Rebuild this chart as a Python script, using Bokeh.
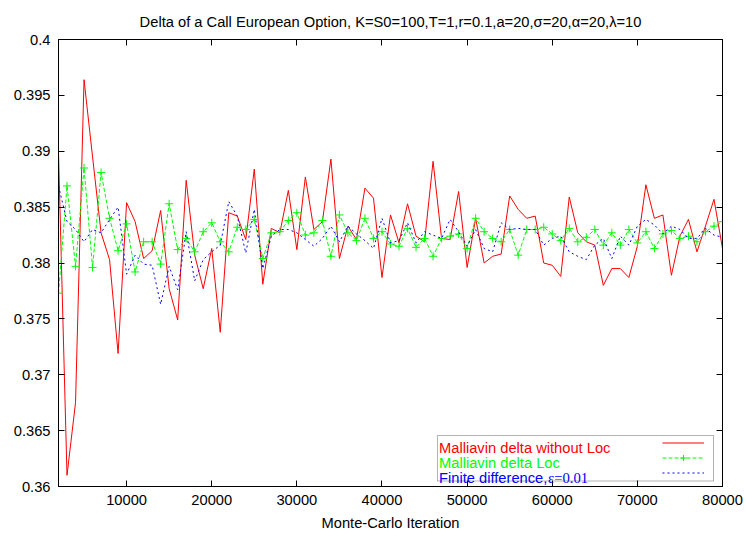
from bokeh.plotting import figure
from bokeh.models import (Range1d, LinearAxis, FixedTicker, Label, BoxAnnotation,
                          Legend, LegendItem)
from bokeh.embed import file_html
from bokeh.resources import INLINE

# ---------------- data ----------------
iterations = [2000, 3000, 4000, 5000, 6000, 7000, 8000, 9000, 10000, 11000,
              12000, 13000, 14000, 15000, 16000, 17000, 18000, 19000, 20000, 21000,
              22000, 23000, 24000, 25000, 26000, 27000, 28000, 29000, 30000, 31000,
              32000, 33000, 34000, 35000, 36000, 37000, 38000, 39000, 40000, 41000,
              42000, 43000, 44000, 45000, 46000, 47000, 48000, 49000, 50000, 51000,
              52000, 53000, 54000, 55000, 56000, 57000, 58000, 59000, 60000, 61000,
              62000, 63000, 64000, 65000, 66000, 67000, 68000, 69000, 70000, 71000,
              72000, 73000, 74000, 75000, 76000, 77000, 78000, 79000, 80000]

malliavin_without_loc = [
    0.3899, 0.3610, 0.3675, 0.3964, 0.3895, 0.3827, 0.3803, 0.3719, 0.3854, 0.3837,
    0.3804, 0.3811, 0.3847, 0.3777, 0.3749, 0.3874, 0.3807, 0.3777, 0.3813, 0.3738,
    0.3845, 0.3842, 0.3821, 0.3884, 0.3781, 0.3831, 0.3827, 0.3865, 0.3812, 0.3877,
    0.3830, 0.3837, 0.3893, 0.3804, 0.3833, 0.3821, 0.3867, 0.3858, 0.3787, 0.3843,
    0.3818, 0.3853, 0.3824, 0.3819, 0.3891, 0.3822, 0.3821, 0.3864, 0.3796, 0.3840,
    0.3800, 0.3806, 0.3808, 0.3860, 0.3848, 0.3840, 0.3842, 0.3800, 0.3798, 0.3788,
    0.3859, 0.3827, 0.3819, 0.3816, 0.3780, 0.3795, 0.3795, 0.3787, 0.3815, 0.3870,
    0.3840, 0.3843, 0.3789, 0.3824, 0.3839, 0.3810, 0.3833, 0.3857, 0.3813]

malliavin_loc = [
    0.3773, 0.3869, 0.3797, 0.3885, 0.3796, 0.3881, 0.3840, 0.3811, 0.3835, 0.3792,
    0.3819, 0.3819, 0.3799, 0.3853, 0.3812, 0.3822, 0.3810, 0.3828, 0.3836, 0.3819,
    0.3810, 0.3832, 0.3830, 0.3839, 0.3804, 0.3827, 0.3828, 0.3838, 0.3845, 0.3825,
    0.3827, 0.3838, 0.3806, 0.3843, 0.3827, 0.3820, 0.3840, 0.3822, 0.3828, 0.3817,
    0.3815, 0.3831, 0.3814, 0.3822, 0.3806, 0.3822, 0.3824, 0.3826, 0.3813, 0.3840,
    0.3828, 0.3822, 0.3819, 0.3830, 0.3807, 0.3830, 0.3830, 0.3832, 0.3826, 0.3820,
    0.3831, 0.3819, 0.3823, 0.3830, 0.3816, 0.3827, 0.3816, 0.3830, 0.3818, 0.3828,
    0.3813, 0.3826, 0.3829, 0.3822, 0.3824, 0.3819, 0.3828, 0.3833, 0.3837]

finite_difference = [
    0.3869, 0.3837, 0.3830, 0.3819, 0.3830, 0.3827, 0.3839, 0.3850, 0.3790, 0.3807,
    0.3799, 0.3798, 0.3763, 0.3797, 0.3776, 0.3828, 0.3784, 0.3803, 0.3810, 0.3816,
    0.3855, 0.3842, 0.3809, 0.3848, 0.3795, 0.3824, 0.3830, 0.3830, 0.3827, 0.3821,
    0.3815, 0.3822, 0.3833, 0.3819, 0.3833, 0.3826, 0.3820, 0.3813, 0.3840, 0.3818,
    0.3820, 0.3836, 0.3818, 0.3828, 0.3825, 0.3822, 0.3839, 0.3828, 0.3815, 0.3830,
    0.3813, 0.3810, 0.3836, 0.3830, 0.3831, 0.3830, 0.3830, 0.3816, 0.3822, 0.3824,
    0.3810, 0.3806, 0.3803, 0.3816, 0.3822, 0.3804, 0.3824, 0.3816, 0.3833, 0.3839,
    0.3834, 0.3826, 0.3833, 0.3830, 0.3822, 0.3822, 0.3831, 0.3825, 0.3823]

x_ticks = [10000, 20000, 30000, 40000, 50000, 60000, 70000, 80000]
x_tick_labels = ["10000", "20000", "30000", "40000", "50000", "60000", "70000", "80000"]
y_ticks = [0.36, 0.365, 0.37, 0.375, 0.38, 0.385, 0.39, 0.395, 0.4]
y_tick_labels = ["0.36", "0.365", "0.37", "0.375", "0.38", "0.385", "0.39", "0.395", "0.4"]

title_text = "Delta of a Call European Option, K=S0=100,T=1,r=0.1,a=20,\u03c3=20,\u03b1=20,\u03bb=10"
x_label = "Monte-Carlo Iteration"
legend_names = ["Malliavin delta without Loc", "Malliavin delta Loc", "Finite difference,"]
legend_serif_tail = "\u03b5=0.01"

# ---------------- layout ----------------
X0, X1 = 2000, 80000
Y0, Y1 = 0.36, 0.40
FW, FH = 664, 447
BL, BT, BR, BB = 58, 39, 25, 47
SANS = "Liberation Sans"
SERIF = "Liberation Serif"
FS = "14.7px"

def xd(px):  # canvas pixel -> data x
    return X0 + (px - BL) / FW * (X1 - X0)

def yd(py):  # canvas pixel -> data y
    return Y1 - (py - BT) / FH * (Y1 - Y0)

p = figure(frame_width=FW, frame_height=FH,
           x_range=Range1d(X0, X1), y_range=Range1d(Y0, Y1),
           output_backend="svg", toolbar_location=None,
           min_border_left=BL, min_border_right=BR,
           min_border_top=BT, min_border_bottom=BB)
p.background_fill_color = "white"
p.border_fill_color = "white"
p.outline_line_color = "black"
p.outline_line_width = 1
p.xgrid.visible = False
p.ygrid.visible = False

p.title.text = title_text
p.title.text_font = SANS
p.title.text_font_size = FS
p.title.text_font_style = "normal"
p.title.text_color = "black"
p.title.align = "center"
p.title.standoff = 19

def style_axis(ax, show_labels=True, standoff=8):
    ax.axis_line_color = "black"
    ax.axis_line_width = 1
    ax.major_tick_line_color = "black"
    ax.major_tick_in = 6
    ax.major_tick_out = 0
    ax.minor_tick_line_color = None
    ax.major_label_text_font = SANS
    ax.major_label_text_font_size = FS if show_labels else "0px"
    ax.major_label_text_color = "black"
    ax.major_label_standoff = standoff if show_labels else 0

p.xaxis.ticker = FixedTicker(ticks=x_ticks)
p.xaxis.major_label_overrides = dict(zip(x_ticks, x_tick_labels))
p.yaxis.ticker = FixedTicker(ticks=y_ticks)
p.yaxis.major_label_overrides = dict(zip(y_ticks, y_tick_labels))
style_axis(p.xaxis[0], True, 8)
style_axis(p.yaxis[0], True, 8)
p.xaxis.axis_label = x_label
p.xaxis.axis_label_text_font = SANS
p.xaxis.axis_label_text_font_size = FS
p.xaxis.axis_label_text_font_style = "normal"
p.xaxis.axis_label_text_color = "black"
p.xaxis.axis_label_standoff = 7

ax_top = LinearAxis(ticker=FixedTicker(ticks=x_ticks))
style_axis(ax_top, False)
p.add_layout(ax_top, "above")
ax_right = LinearAxis(ticker=FixedTicker(ticks=y_ticks))
style_axis(ax_right, False)
p.add_layout(ax_right, "right")

# ---------------- series ----------------
r_red = p.line(iterations, malliavin_without_loc, line_color="#ff0000", line_width=1)
r_green = p.line(iterations, malliavin_loc, line_color="#00ff00", line_width=1,
                 line_dash="4 2")
r_green_pts = p.scatter(iterations, malliavin_loc, marker="cross", size=8,
                        line_color="#00ff00", line_width=1)
r_blue = p.line(iterations, finite_difference, line_color="#0000ff", line_width=1,
                line_dash="2 3")

# ---------------- legend (gnuplot style: text left, sample right) ----------------
p.add_layout(BoxAnnotation(left=xd(437), right=xd(713), top=yd(435), bottom=yd(480.5),
                           fill_color=None, line_color="black", line_width=1,
                           level="overlay"))
legend_colors = ["#ff0000", "#00ff00", "#0000ff"]
for i, (name, col) in enumerate(zip(legend_names, legend_colors)):
    p.add_layout(Label(x=xd(438.5), y=yd(447.3 + 15 * i), text=name, text_font=SANS,
                       text_font_size=FS, text_color=col,
                       text_align="left", text_baseline="alphabetic"))
p.add_layout(Label(x=xd(547.5), y=yd(477.3), text=legend_serif_tail, text_font=SERIF,
                   text_font_size=FS, text_color="#0000ff",
                   text_align="left", text_baseline="alphabetic"))

legend = Legend(items=[LegendItem(label=" ", renderers=[r_red]),
                       LegendItem(label=" ", renderers=[r_green, r_green_pts]),
                       LegendItem(label=" ", renderers=[r_blue])],
                location=(604, 6), orientation="vertical",
                glyph_width=42, glyph_height=15, label_height=15, label_width=0,
                label_standoff=0, label_text_font_size="1px",
                spacing=0, padding=0, margin=0,
                border_line_color=None, background_fill_alpha=0)
p.add_layout(legend)

open("out.html", "w").write(file_html(p, INLINE))
